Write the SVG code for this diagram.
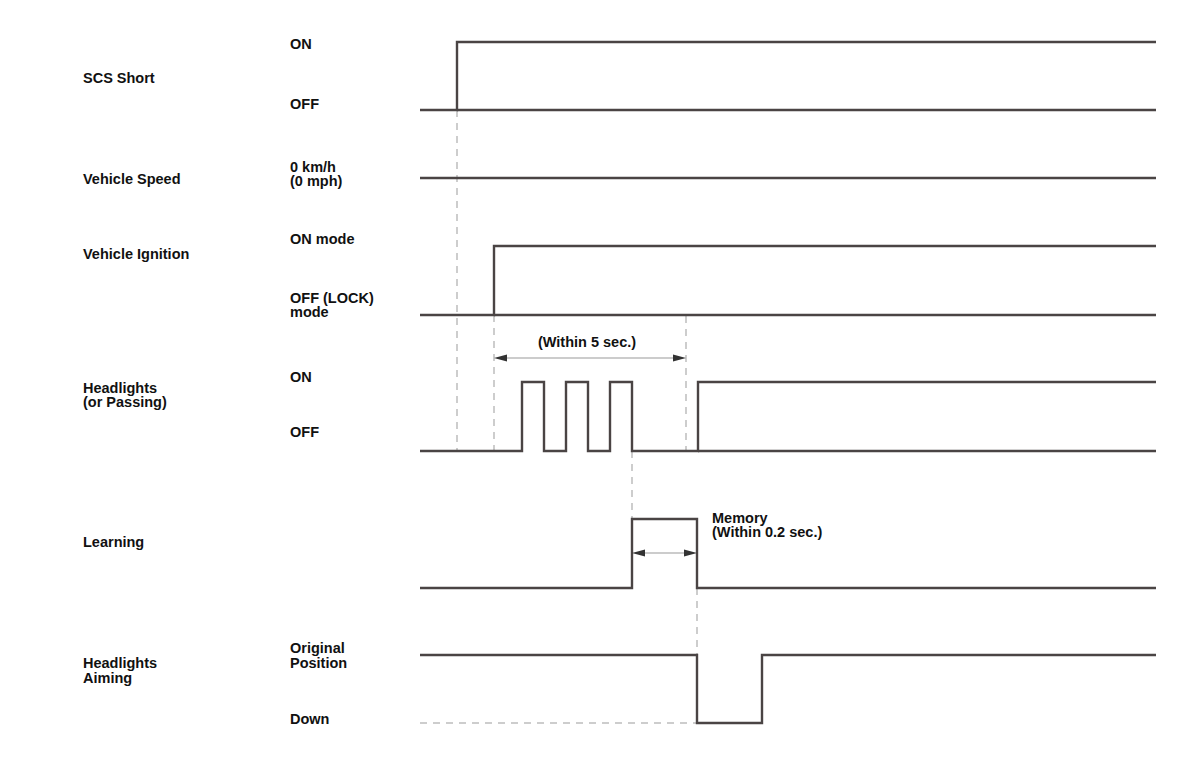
<svg xmlns="http://www.w3.org/2000/svg" width="1200" height="758" viewBox="0 0 1200 758">
<style>
text{font-family:"Liberation Sans",Arial,sans-serif;font-weight:bold;font-size:14.5px;fill:#111}
.sig{fill:none;stroke:#4a4444;stroke-width:2.4;stroke-linejoin:miter}
.dash{fill:none;stroke:#bdbdbd;stroke-width:1.5;stroke-dasharray:7 6}
.dim{fill:none;stroke:#9a9a9a;stroke-width:1.2}
.ah{fill:#333}
</style>
<rect width="1200" height="758" fill="#fff"/>
<g id="guides">
<line class="dash" x1="457" y1="110" x2="457" y2="451"/>
<line class="dash" x1="494" y1="315" x2="494" y2="451"/>
<line class="dash" x1="686" y1="316" x2="686" y2="451"/>
<line class="dash" x1="632" y1="451" x2="632" y2="519"/>
<line class="dash" x1="697" y1="588" x2="697" y2="655"/>
<line class="dash" x1="420" y1="723" x2="697" y2="723"/>
</g>
<g id="scs-short">
<text x="83" y="83">SCS Short</text>
<text x="290" y="49">ON</text>
<text x="290" y="109">OFF</text>
<polyline class="sig" points="420,110 457,110 457,42 1156,42"/>
<line class="sig" x1="457" y1="110" x2="1156" y2="110"/>
</g>
<g id="vehicle-speed">
<text x="83" y="184">Vehicle Speed</text>
<text x="290" y="172">0 km/h</text>
<text x="290" y="186">(0 mph)</text>
<line class="sig" x1="420" y1="178" x2="1156" y2="178"/>
</g>
<g id="vehicle-ignition">
<text x="83" y="259">Vehicle Ignition</text>
<text x="290" y="244">ON mode</text>
<text x="290" y="303">OFF (LOCK)</text>
<text x="290" y="317">mode</text>
<polyline class="sig" points="420,315 494,315 494,246 1156,246"/>
<line class="sig" x1="494" y1="315" x2="1156" y2="315"/>
</g>
<g id="headlights">
<text x="83" y="393">Headlights</text>
<text x="83" y="407">(or Passing)</text>
<text x="290" y="382">ON</text>
<text x="290" y="437">OFF</text>
<polyline class="sig" points="420,451 522,451 522,382 544,382 544,451 566,451 566,382 588,382 588,451 610,451 610,382 632,382 632,451 698,451 698,382 1156,382"/>
<line class="sig" x1="698" y1="451" x2="1156" y2="451"/>
</g>
<g id="within-5">
<line class="dim" x1="500" y1="358" x2="680" y2="358"/>
<polygon class="ah" points="494,358 507,354.5 507,361.5"/>
<polygon class="ah" points="686,358 673,354.5 673,361.5"/>
<text x="587" y="347" text-anchor="middle">(Within 5 sec.)</text>
</g>
<g id="learning">
<text x="83" y="547">Learning</text>
<polyline class="sig" points="420,588 632,588 632,519 697,519 697,588 1156,588"/>
<line class="dim" x1="638" y1="553" x2="691" y2="553"/>
<polygon class="ah" points="632,553 645,549.5 645,556.5"/>
<polygon class="ah" points="697,553 684,549.5 684,556.5"/>
<text x="712" y="523">Memory</text>
<text x="712" y="537">(Within 0.2 sec.)</text>
</g>
<g id="headlights-aiming">
<text x="83" y="668">Headlights</text>
<text x="83" y="683">Aiming</text>
<text x="290" y="653">Original</text>
<text x="290" y="668">Position</text>
<text x="290" y="724">Down</text>
<polyline class="sig" points="420,655 697,655 697,723 762,723 762,655 1156,655"/>
</g>
</svg>
